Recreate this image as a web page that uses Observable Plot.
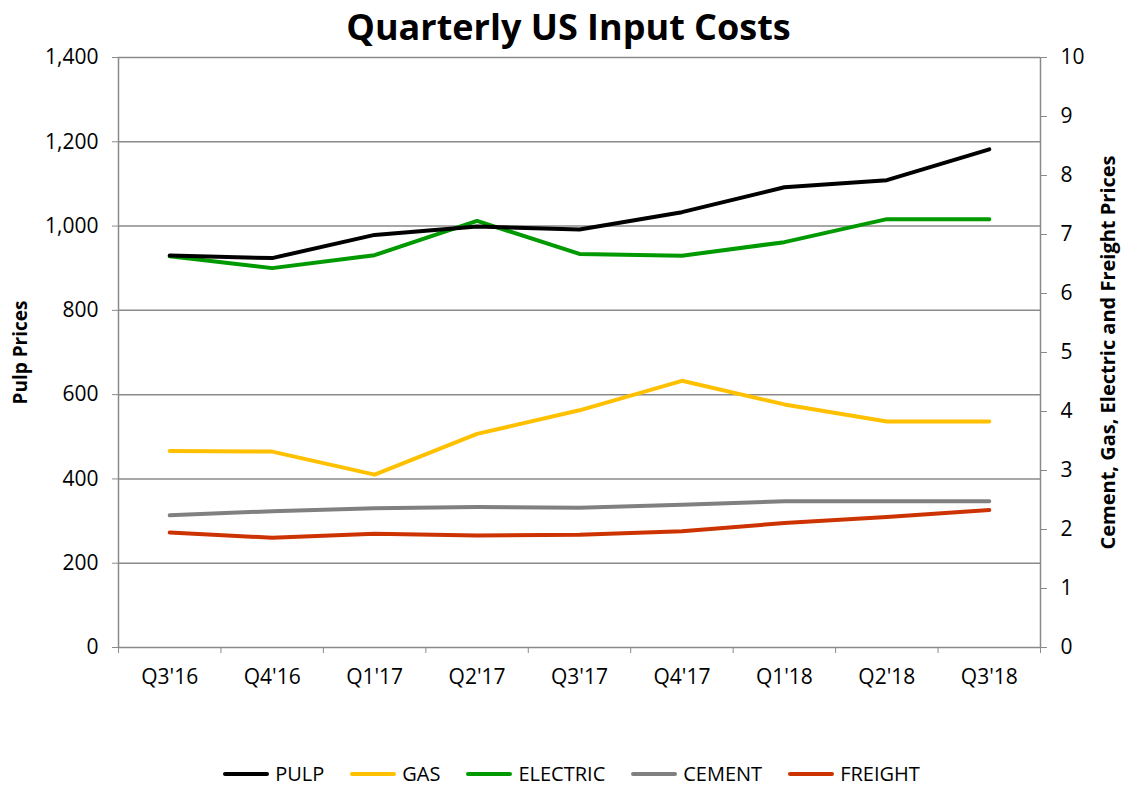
<!DOCTYPE html>
<html>
<head>
<meta charset="utf-8">
<script src="https://cdn.jsdelivr.net/npm/d3@7"></script>
<script src="https://cdn.jsdelivr.net/npm/@observablehq/plot@0.6"></script>
<style>
  html, body { margin: 0; padding: 0; background: #fff; overflow: hidden; }
  body { width: 1121px; height: 785px; font-family: "Open Sans", sans-serif; }
  #chart svg { display: block; }
  #legend { display: flex; justify-content: center; align-items: center; height: 22px; line-height: 22px;
            margin-top: 7px; margin-left: 22px;
            font-family: "Open Sans", sans-serif; font-size: 20px; color: #000; }
  .item { display: flex; align-items: center; margin: 0 13px; }
  .sw { width: 46px; height: 4px; border-radius: 2px; margin-right: 6px; }
</style>
</head>
<body>
<div id="chart"></div>
<div id="legend"></div>
<script>
const quarters = ["Q3'16", "Q4'16", "Q1'17", "Q2'17", "Q3'17", "Q4'17", "Q1'18", "Q2'18", "Q3'18"];
const pulp     = [930, 924, 979, 999, 992, 1033, 1092, 1109, 1182];
const gas      = [3.33, 3.32, 2.93, 3.62, 4.02, 4.52, 4.12, 3.83, 3.83];
const electric = [6.63, 6.43, 6.65, 7.23, 6.67, 6.64, 6.87, 7.26, 7.26];
const cement   = [2.24, 2.31, 2.36, 2.38, 2.37, 2.42, 2.48, 2.48, 2.48];
const freight  = [1.95, 1.86, 1.93, 1.90, 1.91, 1.97, 2.11, 2.21, 2.33];
const leftTicks  = [0, 200, 400, 600, 800, 1000, 1200, 1400];
const rightTicks = [0, 1, 2, 3, 4, 5, 6, 7, 8, 9, 10];
const seriesNames  = ["PULP", "GAS", "ELECTRIC", "CEMENT", "FREIGHT"];
const seriesColors = ["#000000", "#FFC000", "#009900", "#808080", "#CC3300"];

const ratio = 1400 / 10; // right axis (0-10) mapped onto left axis (0-1400)
const idx = quarters.map((_, i) => i);
const bounds = d3.range(quarters.length + 1).map(i => i - 0.5);
const grid = "#8a8a8a";
const font = "Open Sans, sans-serif";

const secondary = [
  {name: "GAS", values: gas},
  {name: "ELECTRIC", values: electric},
  {name: "CEMENT", values: cement},
  {name: "FREIGHT", values: freight}
];
const colorOf = n => seriesColors[seriesNames.indexOf(n)];

const chart = Plot.plot({
  width: 1121,
  height: 756,
  marginLeft: 118,
  marginRight: 81,
  marginTop: 57,
  marginBottom: 109,
  style: {fontFamily: font, fontSize: "21px", color: "#000", background: "#fff"},
  x: {type: "linear", domain: [-0.5, quarters.length - 0.5]},
  y: {domain: [0, 1400]},
  marks: [
    Plot.ruleY(leftTicks, {stroke: grid, strokeWidth: 1.5}),
    Plot.ruleX([-0.5, quarters.length - 0.5], {stroke: grid, strokeWidth: 1.5}),
    Plot.axisY(leftTicks, {anchor: "left", tickFormat: d3.format(","), tickSize: 6, tickPadding: 14,
      stroke: grid, fill: "#000", label: null, fontSize: 21}),
    Plot.axisY(rightTicks.map(v => v * ratio), {anchor: "right", tickFormat: d => d3.format("d")(d / ratio),
      tickSize: 6, tickPadding: 14, stroke: grid, fill: "#000", label: null, fontSize: 21}),
    Plot.axisX(idx, {tickFormat: i => quarters[i], tickSize: 0, tickPadding: 22, label: null, fill: "#000", fontSize: 21}),
    Plot.axisX(bounds, {tickFormat: () => "", tickSize: 6, tickPadding: 0, stroke: grid, label: null}),
    ...secondary.map(s => Plot.line(s.values, {x: (d, i) => i, y: d => d * ratio,
      stroke: colorOf(s.name), strokeWidth: 4, strokeLinecap: "round", strokeLinejoin: "round"})),
    Plot.line(pulp, {x: (d, i) => i, y: d => d, stroke: colorOf("PULP"), strokeWidth: 4,
      strokeLinecap: "round", strokeLinejoin: "round"}),
    Plot.text(["Quarterly US Input Costs"], {frameAnchor: "top", dx: -11, dy: -43, fontSize: 36, fontWeight: "bold", fill: "#000"}),
    Plot.text(["Pulp Prices"], {frameAnchor: "left", textAnchor: "middle", dx: -98, rotate: -90,
      fontSize: 19, fontWeight: "bold", fill: "#000"}),
    Plot.text(["Cement, Gas, Electric and Freight Prices"], {frameAnchor: "right", textAnchor: "middle", dx: 68, rotate: -90,
      fontSize: 20, fontWeight: "bold", fill: "#000"})
  ]
});
document.getElementById("chart").appendChild(chart);

const legend = document.getElementById("legend");
seriesNames.forEach((n, i) => {
  const item = document.createElement("div");
  item.className = "item";
  const sw = document.createElement("div");
  sw.className = "sw";
  sw.style.background = seriesColors[i];
  const lab = document.createElement("span");
  lab.textContent = n;
  item.appendChild(sw);
  item.appendChild(lab);
  legend.appendChild(item);
});
</script>
</body>
</html>
